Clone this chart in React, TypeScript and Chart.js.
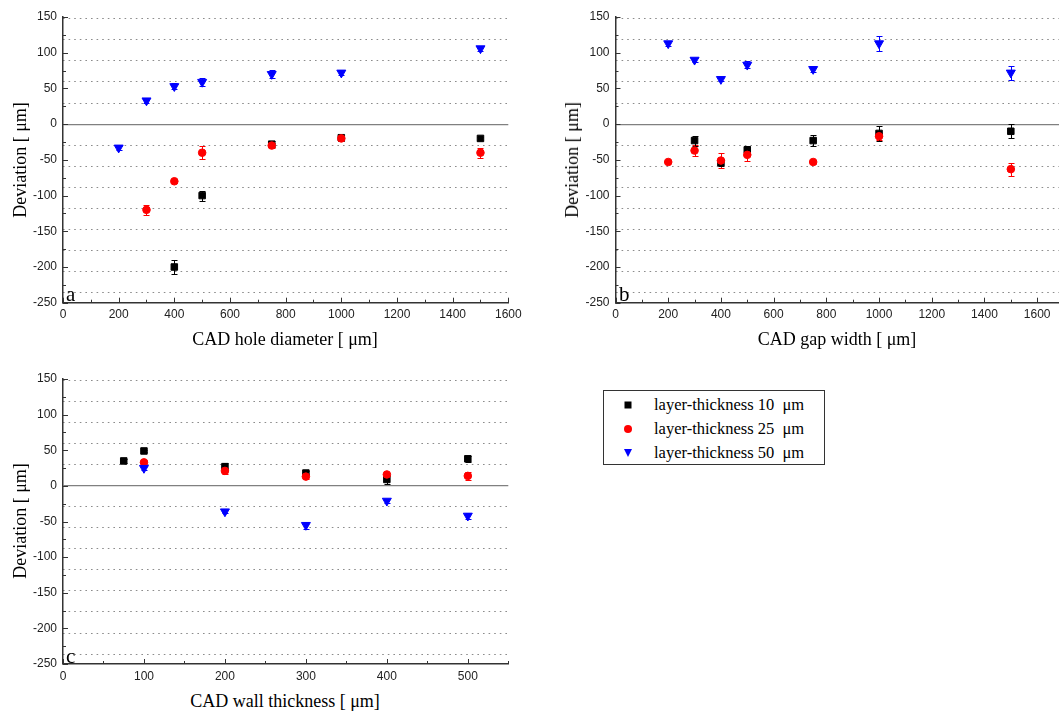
import React, { useEffect, useRef } from "react";
import { Chart, registerables } from "chart.js";
Chart.register(...registerables);

// ---------- shared ----------
const seriesLabels = ["layer-thickness 10\u00a0 \u03bcm", "layer-thickness 25\u00a0 \u03bcm", "layer-thickness 50\u00a0 \u03bcm"];
const seriesColors = ["#000000", "#ff0000", "#0000ff"];
const yTickValues = [-250, -200, -150, -100, -50, 0, 50, 100, 150];
const dottedGridValues = [147.5, 118, 88.5, 59, 29.5, -29.5, -59, -88.5, -118, -147.5, -177, -206.5, -236];

// ---------- panel a: hole diameter ----------
const holeX10 = [400, 500, 750, 1000, 1500];
const holeY10 = [-200, -100, -28, -19, -20];
const holeE10 = [10, 7, 4, 4, 2];
const holeX25 = [300, 400, 500, 750, 1000, 1500];
const holeY25 = [-120, -80, -40, -30, -20, -40];
const holeE25 = [7, 3, 9, 4, 3, 7];
const holeX50 = [200, 300, 400, 500, 750, 1000, 1500];
const holeY50 = [-33, 33, 53, 59, 70, 72, 106];
const holeE50 = [3, 3, 4, 5, 6, 3, 3];
const holeTicks = [0, 200, 400, 600, 800, 1000, 1200, 1400, 1600];

// ---------- panel b: gap width ----------
const gapX10 = [300, 400, 500, 750, 1000, 1500];
const gapY10 = [-23, -54, -36, -23, -13, -10];
const gapE10 = [7, 5, 5, 8, 10, 10];
const gapX25 = [200, 300, 400, 500, 750, 1000, 1500];
const gapY25 = [-53, -37, -51, -43, -53, -17, -63];
const gapE25 = [2, 8, 10, 9, 3, 5, 9];
const gapX50 = [200, 300, 400, 500, 750, 1000, 1500];
const gapY50 = [113, 90, 63, 83, 77, 113, 72];
const gapE50 = [3, 3, 3, 5, 4, 10, 10];
const gapTicks = [0, 200, 400, 600, 800, 1000, 1200, 1400, 1600];

// ---------- panel c: wall thickness ----------
const wallX10 = [75, 100, 200, 300, 400, 500];
const wallY10 = [35, 49, 27, 18, 9, 38];
const wallE10 = [3, 2, 5, 3, 6, 4];
const wallX25 = [100, 200, 300, 400, 500];
const wallY25 = [33, 21, 13, 16, 14];
const wallE25 = [3, 4, 3, 2, 6];
const wallX50 = [100, 200, 300, 400, 500];
const wallY50 = [25, -36, -55, -21, -42];
const wallE50 = [3, 2, 5, 3, 4];
const wallTicks = [0, 100, 200, 300, 400, 500];

const pts = (xs: number[], ys: number[]) => xs.map((x, i) => ({ x, y: ys[i] }));

const errorBarPlugin = {
  id: "errorBars",
  beforeDatasetsDraw(chart: any) {
    const { ctx } = chart;
    const xs = chart.scales.x;
    const ys = chart.scales.y;
    chart.data.datasets.forEach((ds: any) => {
      if (!ds.errors) return;
      ctx.save();
      ctx.strokeStyle = ds.borderColor;
      ctx.lineWidth = 1;
      ctx.beginPath();
      ds.data.forEach((p: any, i: number) => {
        const e = ds.errors[i];
        if (!e) return;
        const px = Math.round(xs.getPixelForValue(p.x)) + 0.5;
        const top = Math.round(ys.getPixelForValue(p.y + e)) + 0.5;
        const bot = Math.round(ys.getPixelForValue(p.y - e)) + 0.5;
        ctx.moveTo(px, top);
        ctx.lineTo(px, bot);
        ctx.moveTo(px - 3, top);
        ctx.lineTo(px + 3, top);
        ctx.moveTo(px - 3, bot);
        ctx.lineTo(px + 3, bot);
      });
      ctx.stroke();
      ctx.restore();
    });
  },
};

const innerTicksPlugin = {
  id: "innerTicks",
  afterDraw(chart: any, _args: any, opts: any) {
    const { ctx, chartArea } = chart;
    const xs = chart.scales.x;
    const ys = chart.scales.y;
    const isMajor = (v: number, step: number) => Math.abs(v / step - Math.round(v / step)) < 1e-6;
    ctx.save();
    ctx.strokeStyle = "#333";
    ctx.lineWidth = 1;
    ctx.beginPath();
    for (let v = 0; v <= xs.max + 1e-6; v += opts.xMinor) {
      const px = Math.round(xs.getPixelForValue(v)) + 0.5;
      const len = isMajor(v, opts.xMajor) ? 5 : 3;
      ctx.moveTo(px, chartArea.bottom);
      ctx.lineTo(px, chartArea.bottom - len);
    }
    for (let v = ys.min; v <= ys.max + 1e-6; v += opts.yMinor) {
      const py = Math.round(ys.getPixelForValue(v)) + 0.5;
      const len = isMajor(v, opts.yMajor) ? 5 : 3;
      ctx.moveTo(chartArea.left, py);
      ctx.lineTo(chartArea.left + len, py);
    }
    ctx.stroke();
    ctx.restore();
  },
};

type PanelSpec = {
  sets: { xs: number[]; ys: number[]; es: number[] }[];
  xTicks: number[];
  xMax: number;
  xStep: number;
  xMinor: number;
  yWidth: number;
  xHeight: number;
  padTop: number;
  padRight: number;
};

function buildConfig(p: PanelSpec): any {
  const styles = [
    { pointStyle: "rect", pointRadius: 4.6, rotation: 0 },
    { pointStyle: "circle", pointRadius: 3.8, rotation: 0 },
    { pointStyle: "triangle", pointRadius: 5.2, rotation: 180 },
  ];
  const order = [2, 1, 0];
  const datasets = order.map((si) => ({
    label: seriesLabels[si],
    data: pts(p.sets[si].xs, p.sets[si].ys),
    errors: p.sets[si].es,
    backgroundColor: seriesColors[si],
    borderColor: seriesColors[si],
    pointBorderWidth: 1,
    pointStyle: styles[si].pointStyle,
    pointRadius: styles[si].pointRadius,
    pointRotation: styles[si].rotation,
    showLine: false,
  }));
  const tickFont = { family: "'Liberation Sans', Arial, sans-serif", size: 12 };
  return {
    type: "scatter",
    data: { datasets },
    plugins: [errorBarPlugin, innerTicksPlugin],
    options: {
      animation: false,
      responsive: false,
      layout: { padding: { left: 0, top: p.padTop, right: p.padRight, bottom: 0 } },
      plugins: {
        legend: { display: false },
        tooltip: { enabled: false },
        innerTicks: { xMajor: p.xStep, xMinor: p.xMinor, yMajor: 50, yMinor: 25 },
      },
      scales: {
        x: {
          type: "linear",
          min: 0,
          max: p.xMax,
          afterBuildTicks: (s: any) => {
            s.ticks = p.xTicks.map((v) => ({ value: v }));
          },
          ticks: {
            font: tickFont,
            color: "#222",
            padding: 5,
            maxRotation: 0,
            autoSkip: false,
            callback: (v: any) => String(v),
          },
          grid: { drawOnChartArea: false, drawTicks: false },
          border: { color: "#333", width: 1.5 },
          afterFit: (s: any) => {
            s.height = p.xHeight;
          },
        },
        y: {
          type: "linear",
          position: "left",
          min: -250,
          max: 150,
          afterBuildTicks: (s: any) => {
            s.ticks = yTickValues.map((v) => ({ value: v }));
          },
          ticks: { font: tickFont, color: "#222", padding: 6, autoSkip: false, callback: (v: any) => String(v) },
          grid: {
            drawTicks: false,
            color: (c: any) => (c.tick && c.tick.value === 0 ? "#808080" : "rgba(0,0,0,0)"),
            lineWidth: 1.2,
          },
          border: { color: "#333", width: 1.5 },
          afterFit: (s: any) => {
            s.width = p.yWidth;
          },
        },
        yg: {
          type: "linear",
          position: "left",
          min: -250,
          max: 150,
          afterBuildTicks: (s: any) => {
            s.ticks = dottedGridValues.map((v) => ({ value: v }));
          },
          ticks: { display: false },
          grid: { drawTicks: false, color: "#8c8c8c", lineWidth: 1 },
          border: { display: false, dash: [1.6, 4] },
          afterFit: (s: any) => {
            s.width = 0;
          },
        },
      },
    },
  };
}

function Panel({ spec, left, top, width, height }: { spec: PanelSpec; left: number; top: number; width: number; height: number }) {
  const ref = useRef<HTMLCanvasElement>(null);
  useEffect(() => {
    if (!ref.current) return;
    const chart = new Chart(ref.current, buildConfig(spec));
    return () => chart.destroy();
  }, []);
  return (
    <canvas
      ref={ref}
      width={width}
      height={height}
      style={{ position: "absolute", left, top, width, height }}
    />
  );
}

const serif = "'Liberation Serif', 'Times New Roman', serif";

function YTitle({ cx, cy }: { cx: number; cy: number }) {
  return (
    <div
      style={{
        position: "absolute",
        left: cx,
        top: cy,
        transform: "translate(-50%, -50%) rotate(-90deg)",
        fontFamily: serif,
        fontSize: 18,
        whiteSpace: "pre",
        lineHeight: 1,
      }}
    >
      {"Deviation [ \u03bcm]"}
    </div>
  );
}

function XTitle({ cx, cy, text }: { cx: number; cy: number; text: string }) {
  return (
    <div
      style={{
        position: "absolute",
        left: cx,
        top: cy,
        transform: "translate(-50%, -50%)",
        fontFamily: serif,
        fontSize: 18,
        whiteSpace: "pre",
        lineHeight: 1,
      }}
    >
      {text}
    </div>
  );
}

function Letter({ x, y, t }: { x: number; y: number; t: string }) {
  return (
    <div style={{ position: "absolute", left: x, top: y, fontFamily: serif, fontSize: 21, lineHeight: 1 }}>{t}</div>
  );
}

function LegendBox() {
  const markers = [
    <div style={{ width: 7, height: 7, background: seriesColors[0] }} />,
    <div style={{ width: 8, height: 8, borderRadius: 4, background: seriesColors[1] }} />,
    <div
      style={{
        width: 0,
        height: 0,
        borderLeft: "4.5px solid transparent",
        borderRight: "4.5px solid transparent",
        borderTop: "8px solid " + seriesColors[2],
      }}
    />,
  ];
  return (
    <div
      style={{
        position: "absolute",
        left: 603,
        top: 390,
        width: 222,
        height: 75,
        border: "1px solid #333",
        boxSizing: "border-box",
      }}
    >
      {seriesLabels.map((lab, i) => (
        <div key={i} style={{ position: "absolute", left: 0, top: 14 + i * 24, width: "100%" }}>
          <div style={{ position: "absolute", left: 24, top: 0, transform: "translate(-50%, -50%)" }}>{markers[i]}</div>
          <div
            style={{
              position: "absolute",
              left: 50,
              top: 0,
              transform: "translateY(-50%)",
              fontFamily: serif,
              fontSize: 16.5,
              whiteSpace: "pre",
              lineHeight: 1,
            }}
          >
            {lab}
          </div>
        </div>
      ))}
    </div>
  );
}

const specA: PanelSpec = {
  sets: [
    { xs: holeX10, ys: holeY10, es: holeE10 },
    { xs: holeX25, ys: holeY25, es: holeE25 },
    { xs: holeX50, ys: holeY50, es: holeE50 },
  ],
  xTicks: holeTicks,
  xMax: 1600,
  xStep: 200,
  xMinor: 100,
  yWidth: 63,
  xHeight: 27.3,
  padTop: 17,
  padRight: 21.7,
};

const specB: PanelSpec = {
  sets: [
    { xs: gapX10, ys: gapY10, es: gapE10 },
    { xs: gapX25, ys: gapY25, es: gapE25 },
    { xs: gapX50, ys: gapY50, es: gapE50 },
  ],
  xTicks: gapTicks,
  xMax: 1720,
  xStep: 200,
  xMinor: 100,
  yWidth: 85.5,
  xHeight: 27.3,
  padTop: 17,
  padRight: 0,
};

const specC: PanelSpec = {
  sets: [
    { xs: wallX10, ys: wallY10, es: wallE10 },
    { xs: wallX25, ys: wallY25, es: wallE25 },
    { xs: wallX50, ys: wallY50, es: wallE50 },
  ],
  xTicks: wallTicks,
  xMax: 550,
  xStep: 100,
  xMinor: 50,
  yWidth: 63,
  xHeight: 27,
  padTop: 24,
  padRight: 21.7,
};

export default function App() {
  return (
    <div
      style={{
        position: "absolute",
        left: 0,
        top: 0,
        width: 1059,
        height: 711,
        overflow: "hidden",
        background: "#fff",
      }}
    >
      <Panel spec={specA} left={0} top={0} width={530} height={330} />
      <Panel spec={specB} left={530} top={0} width={545} height={330} />
      <Panel spec={specC} left={0} top={355} width={530} height={336} />
      <YTitle cx={20} cy={160} />
      <YTitle cx={572} cy={160} />
      <YTitle cx={20} cy={521} />
      <XTitle cx={285} cy={339} text={"CAD hole diameter [ \u03bcm]"} />
      <XTitle cx={837} cy={339} text={"CAD gap width [ \u03bcm]"} />
      <XTitle cx={285} cy={701} text={"CAD wall thickness [ \u03bcm]"} />
      <Letter x={66} y={284} t="a" />
      <Letter x={619} y={284} t="b" />
      <Letter x={66} y={646} t="c" />
      <LegendBox />
    </div>
  );
}
